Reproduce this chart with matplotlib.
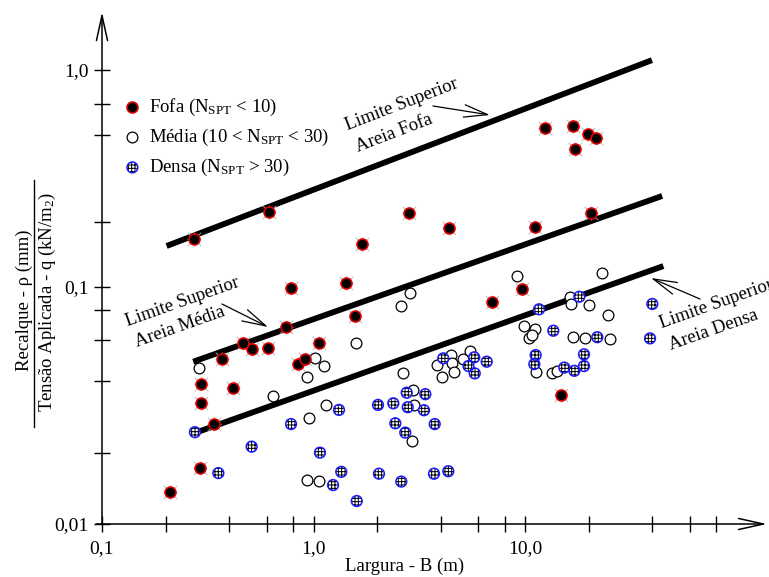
import numpy as np
import matplotlib
matplotlib.use("Agg")
import matplotlib.pyplot as plt

plt.rcParams["font.family"] = ["Liberation Serif", "DejaVu Serif"]
plt.rcParams["mathtext.fontset"] = "custom"
plt.rcParams["mathtext.rm"] = "Liberation Serif"
plt.rcParams["mathtext.it"] = "Liberation Serif:italic"
plt.rcParams["hatch.color"] = "black"
plt.rcParams["hatch.linewidth"] = 0.7

# Fofa (NSPT < 10): largura B (m), recalque/tensao
fofa_b = [0.210, 0.291, 0.293, 0.293, 0.340, 0.369, 0.418, 0.462, 0.510, 0.609,
          0.745, 0.848, 0.915, 1.058, 0.783, 1.417, 1.571, 0.272, 0.616, 1.696,
          2.819, 4.386, 11.17, 20.45, 12.43, 16.81, 19.79, 21.66, 17.23, 9.65,
          7.00, 14.80]
fofa_r = [0.0137, 0.0172, 0.0324, 0.0390, 0.0264, 0.0495, 0.0375, 0.0579, 0.0548, 0.0555,
          0.0676, 0.0473, 0.0495, 0.0580, 0.0988, 0.1043, 0.0754, 0.1659, 0.2209, 0.1570,
          0.2186, 0.1864, 0.1886, 0.2186, 0.5386, 0.5519, 0.5055, 0.4876, 0.4337, 0.0978,
          0.0867, 0.0350]

# Media (10 < NSPT < 30)
media_b = [2.859, 2.593, 1.588, 0.288, 1.013, 1.121, 0.932, 0.640, 2.641, 2.944,
           2.996, 1.142, 0.955, 2.913, 0.932, 1.058, 3.824, 4.064, 4.468, 4.532,
           4.616, 5.080, 5.495, 9.196, 23.25, 16.32, 16.45, 20.07, 24.77, 9.893,
           11.15, 10.44, 10.83, 16.81, 19.22, 25.23, 11.27, 13.37, 14.21]
media_r = [0.0940, 0.0832, 0.0579, 0.0455, 0.0500, 0.0464, 0.0416, 0.0348, 0.0432, 0.0368,
           0.0318, 0.0318, 0.0280, 0.0225, 0.0153, 0.0152, 0.0469, 0.0416, 0.0516, 0.0477,
           0.0439, 0.0495, 0.0536, 0.1118, 0.1160, 0.0905, 0.0845, 0.0840, 0.0762, 0.0687,
           0.0663, 0.0607, 0.0627, 0.0614, 0.0607, 0.0602, 0.0437, 0.0432, 0.0443]

# Densa (NSPT > 30)
densa_b = [0.275, 0.783, 0.510, 0.355, 1.073, 1.320, 2.018, 2.384, 2.759, 2.789,
           3.378, 3.331, 2.437, 2.716, 3.742, 1.353, 1.237, 2.040, 2.601, 3.713,
           4.339, 1.601, 4.108, 5.406, 5.753, 5.785, 6.590, 18.06, 11.65, 13.61,
           21.97, 39.99, 39.00, 11.23, 11.07, 15.34, 17.11, 19.01, 19.01]
densa_r = [0.0244, 0.0264, 0.0212, 0.0164, 0.0200, 0.0303, 0.0318, 0.0323, 0.0358, 0.0311,
           0.0353, 0.0302, 0.0266, 0.0243, 0.0264, 0.0166, 0.0146, 0.0163, 0.0151, 0.0163,
           0.0167, 0.0125, 0.0500, 0.0464, 0.0505, 0.0432, 0.0484, 0.0910, 0.0805, 0.0654,
           0.0614, 0.0848, 0.0607, 0.0516, 0.0473, 0.0457, 0.0443, 0.0520, 0.0464]

# limites superiores (inicio e fim de cada reta)
lim_fofa_b, lim_fofa_r = [0.202, 39.8], [0.1545, 1.11]
lim_media_b, lim_media_r = [0.270, 44.5], [0.0484, 0.2627]
lim_densa_b, lim_densa_r = [0.285, 45.1], [0.0245, 0.1249]

x_major = [0.1, 1.0, 10.0]
x_major_labels = ["0,1", "1,0", "10,0"]
x_minor = [0.2, 0.4, 0.6, 0.8, 2, 4, 6, 8, 20, 40, 60, 80]
y_major = [0.01, 0.1, 1.0]
y_major_labels = ["0,01", "0,1", "1,0"]
y_minor = [0.02, 0.04, 0.06, 0.08, 0.2, 0.5, 0.7]

W, H = 769, 577


def fp(x, y):
    # pixel position -> figure fraction
    return x / W, 1 - y / H


# the original axis is drawn with slightly different decade lengths
def y_fwd(v):
    lv = np.log10(np.clip(v, 1e-6, None))
    return np.where(lv < -1, (lv + 2) * 237, 237 + (lv + 1) * 217)


def y_inv(p):
    p = np.asarray(p, dtype=float)
    return np.where(p < 237, 10 ** (p / 237 - 2), 10 ** ((p - 237) / 217 - 1))


fig = plt.figure(figsize=(W / 100, H / 100), dpi=100)
ax = fig.add_axes([102 / W, 53 / H, 665 / W, 512 / H])
ax.set_xscale("log")
ax.set_yscale("function", functions=(y_fwd, y_inv))
ax.set_xlim(0.1, 10 ** (665 / 211.5 - 1))
ax.set_ylim(0.01, float(y_inv(512)))

for s in ax.spines.values():
    s.set_visible(False)

# axis lines with open arrow heads
ax.annotate("", xy=(1, 0), xytext=(-0.009, 0), xycoords="axes fraction",
            arrowprops=dict(arrowstyle="->,head_length=1.8,head_width=0.4", lw=1.1,
                            color="black", shrinkA=0, shrinkB=0, mutation_scale=10))
ax.annotate("", xy=(0, 1), xytext=(0, 0), xycoords="axes fraction",
            arrowprops=dict(arrowstyle="->,head_length=1.8,head_width=0.4", lw=1.1,
                            color="black", shrinkA=0, shrinkB=0, mutation_scale=10))

ax.set_xticks(x_major)
ax.set_xticklabels(x_major_labels)
ax.set_xticks(x_minor, minor=True)
ax.set_xticklabels([], minor=True)
ax.set_yticks(y_major)
ax.set_yticklabels(y_major_labels)
ax.set_yticks(y_minor, minor=True)
ax.set_yticklabels([], minor=True)
ax.tick_params(which="both", direction="inout", length=11, width=1.0, labelsize=14)
ax.tick_params(axis="y", pad=4)
ax.tick_params(axis="x", pad=6)

# limit lines
for bb, rr in [(lim_fofa_b, lim_fofa_r), (lim_media_b, lim_media_r), (lim_densa_b, lim_densa_r)]:
    ax.plot(bb, rr, color="black", lw=4.2, solid_capstyle="butt", zorder=2)

# points
ax.scatter(fofa_b, fofa_r, s=95, marker="+", color="#b0b0b0", linewidths=0.6, zorder=4)
ax.scatter(fofa_b, fofa_r, s=95, marker="x", color="#b0b0b0", linewidths=0.6, zorder=4)
h_fofa = ax.scatter(fofa_b, fofa_r, s=62, marker="o", facecolor="black",
                    edgecolor="#e00000", linewidths=1.2, zorder=5)
h_media = ax.scatter(media_b, media_r, s=60, marker="o", facecolor="white",
                     edgecolor="black", linewidths=0.9, zorder=3)
h_dh = ax.scatter(densa_b, densa_r, s=60, marker="o", facecolor="white",
                  edgecolor="black", linewidths=0, hatch="+++++", zorder=3)
h_de = ax.scatter(densa_b, densa_r, s=60, marker="o", facecolor="none",
                  edgecolor="#1a1aff", linewidths=1.1, zorder=3)

ax.legend([h_fofa, h_media, (h_dh, h_de)],
          ["Fofa (N$_{\\mathrm{SPT}}$ < 10)",
           "Média (10 < N$_{\\mathrm{SPT}}$ < 30)",
           "Densa (N$_{\\mathrm{SPT}}$ > 30)"],
          loc="upper left", bbox_to_anchor=fp(123, 97), bbox_transform=fig.transFigure,
          frameon=False, fontsize=13.5, handlelength=1.0, handletextpad=0.4,
          labelspacing=0.48, borderpad=0, borderaxespad=0, scatterpoints=1)

# annotations for limit lines
arrow = dict(arrowstyle="->,head_length=1.7,head_width=0.45", lw=0.9, color="black",
             shrinkA=0, shrinkB=0, mutation_scale=10)
notes = [
    ((348, 130), (358, 152), "Areia Fofa", 21, (433, 106), (490, 115)),
    ((128, 326), (137, 347), "Areia Média", 19.5, (222, 304), (268, 327)),
    ((662, 328), (671, 350), "Areia Densa", 19.5, (700, 299), (651, 278)),
]
for p1, p2, txt, rot, a0, a1 in notes:
    fig.text(*fp(*p1), "Limite Superior", rotation=rot, rotation_mode="anchor",
             ha="left", va="baseline", fontsize=13.5)
    fig.text(*fp(*p2), txt, rotation=rot, rotation_mode="anchor",
             ha="left", va="baseline", fontsize=13.5)
    ax.annotate("", xy=fp(*a1), xytext=fp(*a0), xycoords="figure fraction",
                arrowprops=arrow)

# axis titles
fig.text(*fp(405, 566), "Largura - B (m)", ha="center", va="center", fontsize=13.5)
fig.text(*fp(24, 300), "Recalque - ρ (mm)", rotation=90, ha="center", va="center",
         fontsize=13.5)
fig.text(*fp(47, 302), "Tensão Aplicada - q (kN/m$_2$)", rotation=90, ha="center",
         va="center", fontsize=13.5)
fig.add_artist(plt.Line2D([34 / W, 34 / W], [1 - 180 / H, 1 - 427 / H],
                          color="black", lw=1.0))

fig.savefig("out.png", dpi=100)
